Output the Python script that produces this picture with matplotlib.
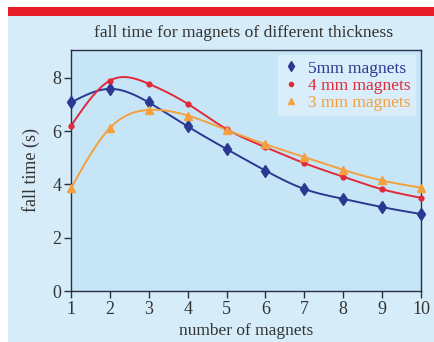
import numpy as np
import matplotlib
matplotlib.use("Agg")
import matplotlib.pyplot as plt
from matplotlib.lines import Line2D
from matplotlib.patches import Rectangle

plt.rcParams["font.family"] = ["Liberation Serif", "DejaVu Serif"]

n_magnets = [1, 2, 3, 4, 5, 6, 7, 8, 9, 10]
time_5mm = [7.08, 7.59, 7.08, 6.18, 5.33, 4.52, 3.83, 3.46, 3.15, 2.89]
time_4mm = [6.20, 7.90, 7.78, 7.03, 6.08, 5.40, 4.80, 4.29, 3.82, 3.50]
time_3mm = [3.86, 6.12, 6.80, 6.59, 6.05, 5.51, 5.03, 4.55, 4.15, 3.88]
series_labels = ["5mm magnets", "4 mm magnets", "3 mm magnets"]
title_text = "fall time for magnets of different thickness"


def natural_spline(x, y, xs):
    x = np.asarray(x, float)
    y = np.asarray(y, float)
    n = len(x)
    h = np.diff(x)
    A = np.zeros((n, n))
    b = np.zeros(n)
    A[0, 0] = A[-1, -1] = 1.0
    for i in range(1, n - 1):
        A[i, i - 1] = h[i - 1]
        A[i, i] = 2 * (h[i - 1] + h[i])
        A[i, i + 1] = h[i]
        b[i] = 3 * ((y[i + 1] - y[i]) / h[i] - (y[i] - y[i - 1]) / h[i - 1])
    c = np.linalg.solve(A, b)
    out = np.empty_like(xs)
    for k, xv in enumerate(xs):
        i = min(max(np.searchsorted(x, xv) - 1, 0), n - 2)
        dx = xv - x[i]
        bi = (y[i + 1] - y[i]) / h[i] - h[i] * (2 * c[i] + c[i + 1]) / 3
        di = (c[i + 1] - c[i]) / (3 * h[i])
        out[k] = y[i] + bi * dx + c[i] * dx ** 2 + di * dx ** 3
    return out


W, H = 435, 342
fig = plt.figure(figsize=(W / 100, H / 100), dpi=100)
fig.patch.set_facecolor("white")

# panel background and red header strip
fig.add_artist(Rectangle((8 / W, 0), 1 - 8 / W, (H - 16) / H,
                         transform=fig.transFigure, facecolor="#d6edf9",
                         edgecolor="none", zorder=0))
fig.add_artist(Rectangle((8 / W, (H - 16) / H), 1 - 8 / W, 9 / H,
                         transform=fig.transFigure, facecolor="#e61e2a",
                         edgecolor="none", zorder=0))

ax = fig.add_axes([71 / W, 51 / H, 350 / W, 241 / H])
ax.set_facecolor("#c6e6f8")

colors = ["#2b3891", "#e02a3a", "#f5a03c"]
markers = ["d", "o", "^"]
msizes = [6, 3.5, 5.5]
legend_sizes = [5, 3, 4.5]
xs = np.linspace(1, 10, 300)
for yv, col, mk, ms in zip([time_5mm, time_4mm, time_3mm], colors, markers, msizes):
    ax.plot(xs, natural_spline(n_magnets, yv, xs), color=col, lw=1.4, zorder=2)
    ax.plot(n_magnets, yv, linestyle="none", marker=mk, color=col,
            markersize=ms, zorder=3, clip_on=False)

ax.set_xlim(1, 10)
ax.set_ylim(0, 9.05)
ax.set_xticks(n_magnets)
ax.set_yticks([0, 2, 4, 6, 8])
for s in ax.spines.values():
    s.set_color("#2a2f45")
    s.set_linewidth(1.0)
ax.tick_params(direction="out", length=5, width=1, colors="#2a2f45",
               labelsize=13, labelcolor="#333333", pad=2)

ax.set_xlabel("number of magnets", fontsize=12.5, color="#333333", labelpad=4)
ax.set_ylabel("fall time (s)", fontsize=13, color="#333333", labelpad=9)
fig.text(244 / W, 1 - 33 / H, title_text, ha="center", va="center",
         fontsize=12.6, color="#333333")

handles = [Line2D([], [], linestyle="none", marker=m, color=c, markersize=s)
           for m, c, s in zip(markers, colors, legend_sizes)]
leg = ax.legend(handles, series_labels, loc="upper right", fontsize=12.5,
                frameon=True, fancybox=False, handlelength=0.8,
                handletextpad=0.6, labelspacing=0.05, borderpad=0.3,
                borderaxespad=0.3)
leg.get_frame().set_facecolor("#d9eefa")
leg.get_frame().set_edgecolor("none")
leg.get_frame().set_alpha(1)
for t, c in zip(leg.get_texts(), colors):
    t.set_color(c)

fig.savefig("out.png", dpi=100, facecolor=fig.get_facecolor())
